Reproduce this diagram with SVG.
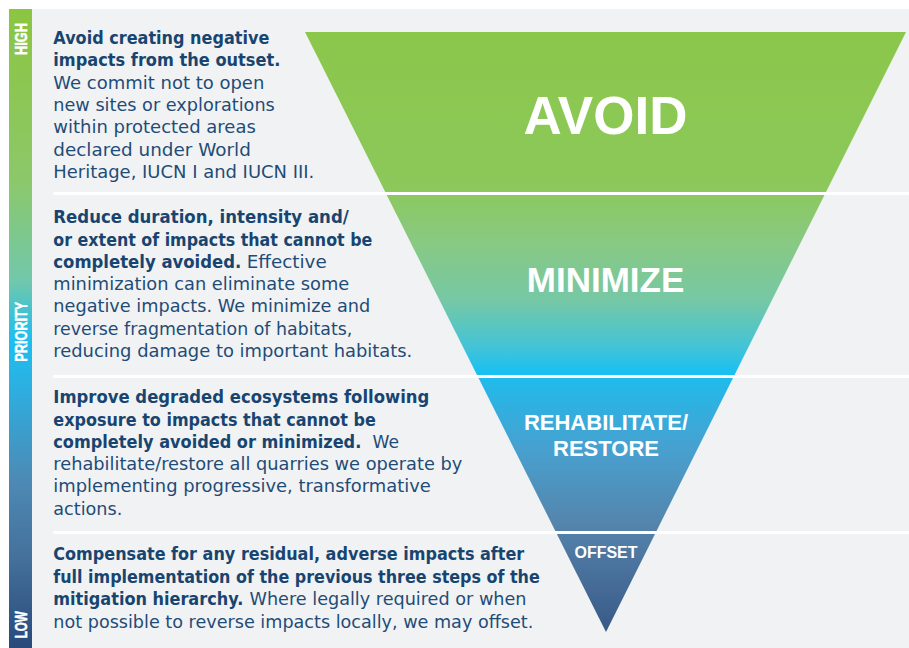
<svg xmlns="http://www.w3.org/2000/svg" width="909" height="648" viewBox="0 0 909 648">
  <defs>
    <linearGradient id="triGrad" gradientUnits="userSpaceOnUse" x1="0" y1="32" x2="0" y2="632">
      <stop offset="0" stop-color="#8bc74b"/>
      <stop offset="0.255" stop-color="#8cc85a"/>
      <stop offset="0.347" stop-color="#89c981"/>
      <stop offset="0.447" stop-color="#76c8a5"/>
      <stop offset="0.53" stop-color="#3fc3da"/>
      <stop offset="0.567" stop-color="#18c0f2"/>
      <stop offset="0.588" stop-color="#24b8e8"/>
      <stop offset="0.697" stop-color="#48a0cf"/>
      <stop offset="0.822" stop-color="#5584ab"/>
      <stop offset="0.855" stop-color="#4f7ba4"/>
      <stop offset="1" stop-color="#395986"/>
    </linearGradient>
    <linearGradient id="barGrad" gradientUnits="userSpaceOnUse" x1="0" y1="9" x2="0" y2="648">
      <stop offset="0" stop-color="#8cc540"/>
      <stop offset="0.268" stop-color="#8cc86a"/>
      <stop offset="0.424" stop-color="#72c8ab"/>
      <stop offset="0.518" stop-color="#1fbdef"/>
      <stop offset="0.581" stop-color="#2ab2e4"/>
      <stop offset="0.737" stop-color="#4d8ab5"/>
      <stop offset="0.862" stop-color="#44709b"/>
      <stop offset="1" stop-color="#28497a"/>
    </linearGradient>
    <style>
      .tri { fill: url(#triGrad); }
      .lbl { font-family: "Liberation Sans", Arial, sans-serif; font-weight: bold; fill: #ffffff; text-anchor: middle; }
      .bar { font-family: "Liberation Sans", Arial, sans-serif; font-weight: bold; fill: #ffffff; stroke: #ffffff; stroke-width: 0.5; font-size: 16px; }
      .b { font-family: "DejaVu Sans", sans-serif; font-weight: bold; font-size: 17px; fill: #184570; }
      .r { font-family: "DejaVu Sans", sans-serif; font-size: 17px; fill: #1f4c77; }
      .rw { font-weight: normal; fill: #1f4c77; }
      .sep { stroke: #ffffff; stroke-width: 2.8; fill: none; }
    </style>
  </defs>

  <rect x="0" y="0" width="909" height="648" fill="#ffffff"/>
  <rect x="32" y="9" width="877" height="639" fill="#f1f2f4"/>

  <g id="priority-bar">
    <rect x="9" y="9" width="23" height="639" fill="url(#barGrad)"/>
    <text class="bar" transform="translate(27,55) rotate(-90)" x="0" y="0" textLength="32" lengthAdjust="spacingAndGlyphs">HIGH</text>
    <text class="bar" transform="translate(27,361.7) rotate(-90)" x="0" y="0" textLength="60" lengthAdjust="spacingAndGlyphs">PRIORITY</text>
    <text class="bar" transform="translate(27,638.3) rotate(-90)" x="0" y="0" textLength="27" lengthAdjust="spacingAndGlyphs">LOW</text>
  </g>

  <g id="avoid">
    <polygon class="tri" points="305,32 906,32 825.25,193.5 386,193.5"/>
    <text class="lbl" x="605.5" y="134" font-size="53">AVOID</text>
    <text class="b" x="53.3" y="44" textLength="216" lengthAdjust="spacingAndGlyphs">Avoid creating negative</text>
    <text class="b" x="53.3" y="66.3" textLength="227" lengthAdjust="spacingAndGlyphs">impacts from the outset.</text>
    <text class="r" x="53.3" y="88.6" textLength="211" lengthAdjust="spacingAndGlyphs">We commit not to open</text>
    <text class="r" x="53.3" y="110.9" textLength="221.5" lengthAdjust="spacingAndGlyphs">new sites or explorations</text>
    <text class="r" x="53.3" y="133.2" textLength="202.5" lengthAdjust="spacingAndGlyphs">within protected areas</text>
    <text class="r" x="53.3" y="155.5" textLength="197.5" lengthAdjust="spacingAndGlyphs">declared under World</text>
    <text class="r" x="53.3" y="178" textLength="261" lengthAdjust="spacingAndGlyphs">Heritage, IUCN I and IUCN III.</text>
  </g>

  <g id="minimize">
    <polygon class="tri" points="386,193.5 825.25,193.5 733.75,376.5 477.8,376.5"/>
    <text class="lbl" x="605.5" y="292.3" font-size="35">MINIMIZE</text>
    <text class="b" x="53.3" y="223.3" textLength="295.5" lengthAdjust="spacingAndGlyphs">Reduce duration, intensity and/</text>
    <text class="b" x="53.3" y="245.5" textLength="319" lengthAdjust="spacingAndGlyphs">or extent of impacts that cannot be</text>
    <text class="b" x="53.3" y="267.8"><tspan textLength="188" lengthAdjust="spacingAndGlyphs">completely avoided.</tspan><tspan class="rw" x="246.7" textLength="80" lengthAdjust="spacingAndGlyphs">Effective</tspan></text>
    <text class="r" x="53.3" y="290" textLength="296" lengthAdjust="spacingAndGlyphs">minimization can eliminate some</text>
    <text class="r" x="53.3" y="312.3" textLength="317" lengthAdjust="spacingAndGlyphs">negative impacts. We minimize and</text>
    <text class="r" x="53.3" y="334.6" textLength="299" lengthAdjust="spacingAndGlyphs">reverse fragmentation of habitats,</text>
    <text class="r" x="53.3" y="356.9" textLength="359" lengthAdjust="spacingAndGlyphs">reducing damage to important habitats.</text>
  </g>

  <g id="rehabilitate-restore">
    <polygon class="tri" points="477.8,376.5 733.75,376.5 655.75,532.5 556.1,532.5"/>
    <text class="lbl" x="606" y="430" font-size="22">REHABILITATE/</text>
    <text class="lbl" x="606" y="456" font-size="22">RESTORE</text>
    <text class="b" x="53.3" y="403.3" textLength="376" lengthAdjust="spacingAndGlyphs">Improve degraded ecosystems following</text>
    <text class="b" x="53.3" y="425.5" textLength="322.5" lengthAdjust="spacingAndGlyphs">exposure to impacts that cannot be</text>
    <text class="b" x="53.3" y="447.8"><tspan textLength="308" lengthAdjust="spacingAndGlyphs">completely avoided or minimized.</tspan><tspan class="rw" x="372.5" textLength="26.5" lengthAdjust="spacingAndGlyphs">We</tspan></text>
    <text class="r" x="53.3" y="470" textLength="409" lengthAdjust="spacingAndGlyphs">rehabilitate/restore all quarries we operate by</text>
    <text class="r" x="53.3" y="492.3" textLength="377.5" lengthAdjust="spacingAndGlyphs">implementing progressive, transformative</text>
    <text class="r" x="53.3" y="514.5" textLength="69" lengthAdjust="spacingAndGlyphs">actions.</text>
  </g>

  <g id="offset">
    <polygon class="tri" points="556.1,532.5 655.75,532.5 606,632"/>
    <text class="lbl" x="606" y="558.3" font-size="16">OFFSET</text>
    <text class="b" x="53.3" y="560" textLength="471" lengthAdjust="spacingAndGlyphs">Compensate for any residual, adverse impacts after</text>
    <text class="b" x="53.3" y="582.5" textLength="486.5" lengthAdjust="spacingAndGlyphs">full implementation of the previous three steps of the</text>
    <text class="b" x="53.3" y="605"><tspan textLength="190" lengthAdjust="spacingAndGlyphs">mitigation hierarchy.</tspan><tspan class="rw" x="249.5" textLength="277" lengthAdjust="spacingAndGlyphs">Where legally required or when</tspan></text>
    <text class="r" x="53.3" y="627.5" textLength="480" lengthAdjust="spacingAndGlyphs">not possible to reverse impacts locally, we may offset.</text>
  </g>

  <g id="connectors">
    <line class="sep" x1="53.3" y1="193.5" x2="909" y2="193.5"/>
    <line class="sep" x1="53.3" y1="376.5" x2="909" y2="376.5"/>
    <line class="sep" x1="53.3" y1="532.5" x2="909" y2="532.5"/>
  </g>
</svg>
